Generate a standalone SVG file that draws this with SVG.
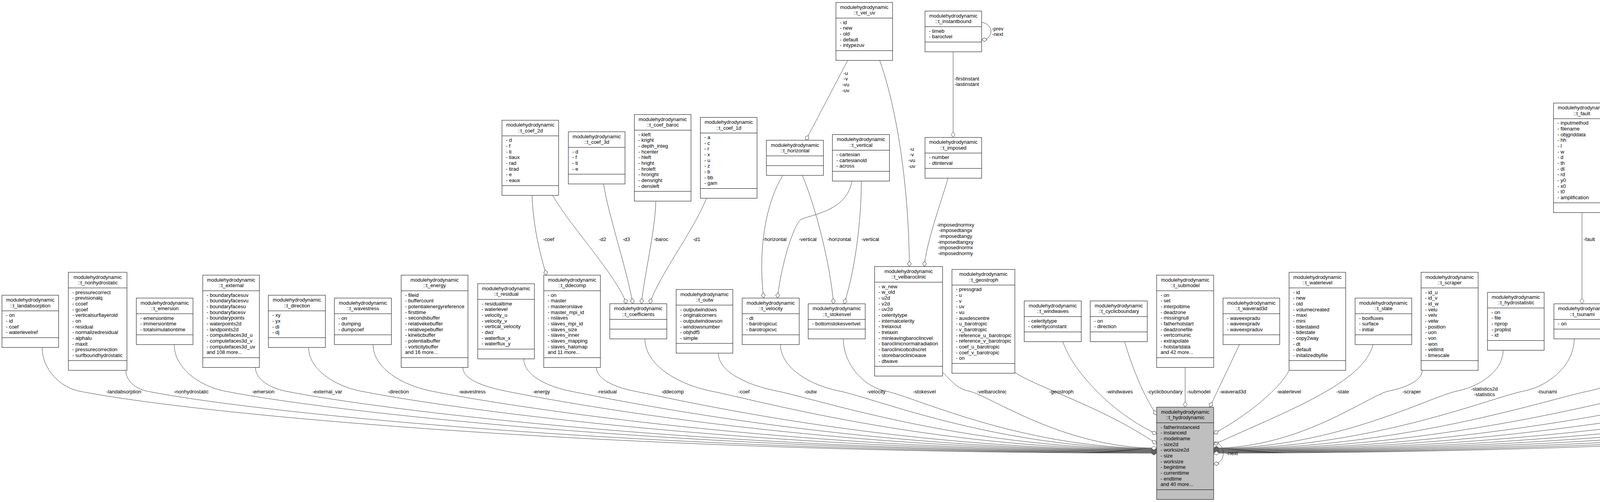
<svg xmlns="http://www.w3.org/2000/svg" width="6041" height="1285" viewBox="0 0 6041 1285">
<style>
.box{fill:#fff;stroke:#000;stroke-width:1}
.focus{fill:#bfbfbf}
.dv{stroke:#000;stroke-width:1;fill:none}
text{font-family:"Liberation Sans",Arial,Helvetica,sans-serif;font-size:13px;fill:#000}
.c{text-anchor:middle}
.e{fill:none;stroke:#404040;stroke-width:1;marker-end:url(#od)}
</style>
<defs>
<marker id="od" viewBox="-1 -1 16 12" markerWidth="16" markerHeight="12" refX="14" refY="5" orient="auto" markerUnits="userSpaceOnUse"><path d="M0,5 L7,0 L14,5 L7,10 Z" fill="#fff" stroke="#404040" stroke-width="1"/></marker>
</defs>
<rect width="6041" height="1285" fill="#fff"/>
<g id="nodes">
<g id="t_landabsorption" transform="translate(5,755.7)"><rect class="box" width="145" height="133.67"/><path class="dv" d="M0,40H145M0,108.67H145"/><text class="c" x="72.5" y="16.5">modulehydrodynamic</text><text class="c" x="72.5" y="31.2">::t_landabsorption</text><text y="55.5"><tspan x="10">- on</tspan><tspan x="10" dy="14.67">- id</tspan><tspan x="10" dy="14.67">- coef</tspan><tspan x="10" dy="14.67">- waterlevelref</tspan></text></g>
<g id="t_nonhydrostatic" transform="translate(175,697)"><rect class="box" width="150" height="251"/><path class="dv" d="M0,40H150M0,226H150"/><text class="c" x="75" y="16.5">modulehydrodynamic</text><text class="c" x="75" y="31.2">::t_nonhydrostatic</text><text y="55.5"><tspan x="10">- pressurecorrect</tspan><tspan x="10" dy="14.67">- previsionalq</tspan><tspan x="10" dy="14.67">- ccoef</tspan><tspan x="10" dy="14.67">- gcoef</tspan><tspan x="10" dy="14.67">- verticalsurflayerold</tspan><tspan x="10" dy="14.67">- on</tspan><tspan x="10" dy="14.67">- residual</tspan><tspan x="10" dy="14.67">- normalizedresidual</tspan><tspan x="10" dy="14.67">- alphalu</tspan><tspan x="10" dy="14.67">- maxit</tspan><tspan x="10" dy="14.67">- pressurecorrection</tspan><tspan x="10" dy="14.67">- surfboundhydrostatic</tspan></text></g>
<g id="t_emersion" transform="translate(349,763)"><rect class="box" width="145" height="119"/><path class="dv" d="M0,40H145M0,94H145"/><text class="c" x="72.5" y="16.5">modulehydrodynamic</text><text class="c" x="72.5" y="31.2">::t_emersion</text><text y="55.5"><tspan x="10">- emersiontime</tspan><tspan x="10" dy="14.67">- immersiontime</tspan><tspan x="10" dy="14.67">- totalsimulationtime</tspan></text></g>
<g id="t_external" transform="translate(519,704.3)"><rect class="box" width="145" height="236.33"/><path class="dv" d="M0,40H145M0,211.33H145"/><text class="c" x="72.5" y="16.5">modulehydrodynamic</text><text class="c" x="72.5" y="31.2">::t_external</text><text y="55.5"><tspan x="10">- boundaryfacesuv</tspan><tspan x="10" dy="14.67">- boundaryfacesvu</tspan><tspan x="10" dy="14.67">- boundaryfacesu</tspan><tspan x="10" dy="14.67">- boundaryfacesv</tspan><tspan x="10" dy="14.67">- boundarypoints</tspan><tspan x="10" dy="14.67">- waterpoints2d</tspan><tspan x="10" dy="14.67">- landpoints2d</tspan><tspan x="10" dy="14.67">- computefaces3d_u</tspan><tspan x="10" dy="14.67">- computefaces3d_v</tspan><tspan x="10" dy="14.67">- computefaces3d_uv</tspan><tspan x="10" dy="14.67">and 108 more...</tspan></text></g>
<g id="t_direction" transform="translate(687,755.7)"><rect class="box" width="146" height="133.67"/><path class="dv" d="M0,40H146M0,108.67H146"/><text class="c" x="73" y="16.5">modulehydrodynamic</text><text class="c" x="73" y="31.2">::t_direction</text><text y="55.5"><tspan x="10">- xy</tspan><tspan x="10" dy="14.67">- yx</tspan><tspan x="10" dy="14.67">- di</tspan><tspan x="10" dy="14.67">- dj</tspan></text></g>
<g id="t_wavestress" transform="translate(856,763)"><rect class="box" width="146" height="119"/><path class="dv" d="M0,40H146M0,94H146"/><text class="c" x="73" y="16.5">modulehydrodynamic</text><text class="c" x="73" y="31.2">::t_wavestress</text><text y="55.5"><tspan x="10">- on</tspan><tspan x="10" dy="14.67">- dumping</tspan><tspan x="10" dy="14.67">- dumpcoef</tspan></text></g>
<g id="t_energy" transform="translate(1027,704.3)"><rect class="box" width="171" height="236.33"/><path class="dv" d="M0,40H171M0,211.33H171"/><text class="c" x="85.5" y="16.5">modulehydrodynamic</text><text class="c" x="85.5" y="31.2">::t_energy</text><text y="55.5"><tspan x="10">- fileid</tspan><tspan x="10" dy="14.67">- buffercount</tspan><tspan x="10" dy="14.67">- potentialenergyreference</tspan><tspan x="10" dy="14.67">- firsttime</tspan><tspan x="10" dy="14.67">- secondsbuffer</tspan><tspan x="10" dy="14.67">- relativekebuffer</tspan><tspan x="10" dy="14.67">- relativepebuffer</tspan><tspan x="10" dy="14.67">- kineticbuffer</tspan><tspan x="10" dy="14.67">- potentialbuffer</tspan><tspan x="10" dy="14.67">- vorticitybuffer</tspan><tspan x="10" dy="14.67">and 16 more...</tspan></text></g>
<g id="t_residual" transform="translate(1223,726.3)"><rect class="box" width="145" height="192.33"/><path class="dv" d="M0,40H145M0,167.33H145"/><text class="c" x="72.5" y="16.5">modulehydrodynamic</text><text class="c" x="72.5" y="31.2">::t_residual</text><text y="55.5"><tspan x="10">- residualtime</tspan><tspan x="10" dy="14.67">- waterlevel</tspan><tspan x="10" dy="14.67">- velocity_u</tspan><tspan x="10" dy="14.67">- velocity_v</tspan><tspan x="10" dy="14.67">- vertical_velocity</tspan><tspan x="10" dy="14.67">- dwz</tspan><tspan x="10" dy="14.67">- waterflux_x</tspan><tspan x="10" dy="14.67">- waterflux_y</tspan></text></g>
<g id="t_ddecomp" transform="translate(1392,704.3)"><rect class="box" width="145" height="236.33"/><path class="dv" d="M0,40H145M0,211.33H145"/><text class="c" x="72.5" y="16.5">modulehydrodynamic</text><text class="c" x="72.5" y="31.2">::t_ddecomp</text><text y="55.5"><tspan x="10">- on</tspan><tspan x="10" dy="14.67">- master</tspan><tspan x="10" dy="14.67">- masterorslave</tspan><tspan x="10" dy="14.67">- master_mpi_id</tspan><tspan x="10" dy="14.67">- nslaves</tspan><tspan x="10" dy="14.67">- slaves_mpi_id</tspan><tspan x="10" dy="14.67">- slaves_size</tspan><tspan x="10" dy="14.67">- slaves_inner</tspan><tspan x="10" dy="14.67">- slaves_mapping</tspan><tspan x="10" dy="14.67">- slaves_halomap</tspan><tspan x="10" dy="14.67">and 11 more...</tspan></text></g>
<g id="t_coefficients" transform="translate(1561,777.5)"><rect class="box" width="146" height="90"/><path class="dv" d="M0,40H146M0,65H146"/><text class="c" x="73" y="16.5">modulehydrodynamic</text><text class="c" x="73" y="31.2">::t_coefficients</text></g>
<g id="t_outw" transform="translate(1731,741)"><rect class="box" width="145" height="163"/><path class="dv" d="M0,40H145M0,138H145"/><text class="c" x="72.5" y="16.5">modulehydrodynamic</text><text class="c" x="72.5" y="31.2">::t_outw</text><text y="55.5"><tspan x="10">- outputwindows</tspan><tspan x="10" dy="14.67">- originalcorners</tspan><tspan x="10" dy="14.67">- outputwindowson</tspan><tspan x="10" dy="14.67">- windowsnumber</tspan><tspan x="10" dy="14.67">- objhdf5</tspan><tspan x="10" dy="14.67">- simple</tspan></text></g>
<g id="t_velocity" transform="translate(1900,763)"><rect class="box" width="146" height="119"/><path class="dv" d="M0,40H146M0,94H146"/><text class="c" x="73" y="16.5">modulehydrodynamic</text><text class="c" x="73" y="31.2">::t_velocity</text><text y="55.5"><tspan x="10">- dt</tspan><tspan x="10" dy="14.67">- barotropicuc</tspan><tspan x="10" dy="14.67">- barotropicvc</tspan></text></g>
<g id="t_stokesvel" transform="translate(2069,777.7)"><rect class="box" width="146" height="89.67"/><path class="dv" d="M0,40H146M0,64.67H146"/><text class="c" x="73" y="16.5">modulehydrodynamic</text><text class="c" x="73" y="31.2">::t_stokesvel</text><text y="55.5"><tspan x="10">- bottomstokesvertvel</tspan></text></g>
<g id="t_velbaroclinic" transform="translate(2239,682.3)"><rect class="box" width="174" height="280.33"/><path class="dv" d="M0,40H174M0,255.33H174"/><text class="c" x="87" y="16.5">modulehydrodynamic</text><text class="c" x="87" y="31.2">::t_velbaroclinic</text><text y="55.5"><tspan x="10">- w_new</tspan><tspan x="10" dy="14.67">- w_old</tspan><tspan x="10" dy="14.67">- u2d</tspan><tspan x="10" dy="14.67">- v2d</tspan><tspan x="10" dy="14.67">- uv2d</tspan><tspan x="10" dy="14.67">- celeritytype</tspan><tspan x="10" dy="14.67">- internalcelerity</tspan><tspan x="10" dy="14.67">- trelaxout</tspan><tspan x="10" dy="14.67">- trelaxin</tspan><tspan x="10" dy="14.67">- minleavingbaroclincvel</tspan><tspan x="10" dy="14.67">- baroclinicnormalradiation</tspan><tspan x="10" dy="14.67">- baroclinicobcdiscret</tspan><tspan x="10" dy="14.67">- storebaroclinicwave</tspan><tspan x="10" dy="14.67">- dtwave</tspan></text></g>
<g id="t_geostroph" transform="translate(2437,689.7)"><rect class="box" width="161" height="265.67"/><path class="dv" d="M0,40H161M0,240.67H161"/><text class="c" x="80.5" y="16.5">modulehydrodynamic</text><text class="c" x="80.5" y="31.2">::t_geostroph</text><text y="55.5"><tspan x="10">- pressgrad</tspan><tspan x="10" dy="14.67">- u</tspan><tspan x="10" dy="14.67">- v</tspan><tspan x="10" dy="14.67">- uv</tspan><tspan x="10" dy="14.67">- vu</tspan><tspan x="10" dy="14.67">- auxdescentre</tspan><tspan x="10" dy="14.67">- u_barotropic</tspan><tspan x="10" dy="14.67">- v_barotropic</tspan><tspan x="10" dy="14.67">- reference_u_barotropic</tspan><tspan x="10" dy="14.67">- reference_v_barotropic</tspan><tspan x="10" dy="14.67">- coef_u_barotropic</tspan><tspan x="10" dy="14.67">- coef_v_barotropic</tspan><tspan x="10" dy="14.67">- on</tspan></text></g>
<g id="t_windwaves" transform="translate(2622,770.3)"><rect class="box" width="146" height="104.33"/><path class="dv" d="M0,40H146M0,79.33H146"/><text class="c" x="73" y="16.5">modulehydrodynamic</text><text class="c" x="73" y="31.2">::t_windwaves</text><text y="55.5"><tspan x="10">- celeritytype</tspan><tspan x="10" dy="14.67">- celerityconstant</tspan></text></g>
<g id="t_cyclicboundary" transform="translate(2791,770.3)"><rect class="box" width="146" height="104.33"/><path class="dv" d="M0,40H146M0,79.33H146"/><text class="c" x="73" y="16.5">modulehydrodynamic</text><text class="c" x="73" y="31.2">::t_cyclicboundary</text><text y="55.5"><tspan x="10">- on</tspan><tspan x="10" dy="14.67">- direction</tspan></text></g>
<g id="t_submodel" transform="translate(2961,704.3)"><rect class="box" width="146" height="236.33"/><path class="dv" d="M0,40H146M0,211.33H146"/><text class="c" x="73" y="16.5">modulehydrodynamic</text><text class="c" x="73" y="31.2">::t_submodel</text><text y="55.5"><tspan x="10">- on</tspan><tspan x="10" dy="14.67">- set</tspan><tspan x="10" dy="14.67">- interpoltime</tspan><tspan x="10" dy="14.67">- deadzone</tspan><tspan x="10" dy="14.67">- missingnull</tspan><tspan x="10" dy="14.67">- fatherhotstart</tspan><tspan x="10" dy="14.67">- deadzonefile</tspan><tspan x="10" dy="14.67">- vertcomunic</tspan><tspan x="10" dy="14.67">- extrapolate</tspan><tspan x="10" dy="14.67">- hotstartdata</tspan><tspan x="10" dy="14.67">and 42 more...</tspan></text></g>
<g id="t_hydrodynamic" transform="translate(2961,1042.2)"><rect class="box focus" width="146" height="236.33"/><path class="dv" d="M0,40H146M0,211.33H146"/><text class="c" x="73" y="16.5">modulehydrodynamic</text><text class="c" x="73" y="31.2">::t_hydrodynamic</text><text y="55.5"><tspan x="10">- fatherinstanceid</tspan><tspan x="10" dy="14.67">- instanceid</tspan><tspan x="10" dy="14.67">- modelname</tspan><tspan x="10" dy="14.67">- size2d</tspan><tspan x="10" dy="14.67">- worksize2d</tspan><tspan x="10" dy="14.67">- size</tspan><tspan x="10" dy="14.67">- worksize</tspan><tspan x="10" dy="14.67">- begintime</tspan><tspan x="10" dy="14.67">- currenttime</tspan><tspan x="10" dy="14.67">- endtime</tspan><tspan x="10" dy="14.67">and 40 more...</tspan></text></g>
<g id="t_waverad3d" transform="translate(3131,763)"><rect class="box" width="145" height="119"/><path class="dv" d="M0,40H145M0,94H145"/><text class="c" x="72.5" y="16.5">modulehydrodynamic</text><text class="c" x="72.5" y="31.2">::t_waverad3d</text><text y="55.5"><tspan x="10">- waveexpradu</tspan><tspan x="10" dy="14.67">- waveexpradv</tspan><tspan x="10" dy="14.67">- waveexpraduv</tspan></text></g>
<g id="t_waterlevel" transform="translate(3300,697)"><rect class="box" width="145" height="251"/><path class="dv" d="M0,40H145M0,226H145"/><text class="c" x="72.5" y="16.5">modulehydrodynamic</text><text class="c" x="72.5" y="31.2">::t_waterlevel</text><text y="55.5"><tspan x="10">- id</tspan><tspan x="10" dy="14.67">- new</tspan><tspan x="10" dy="14.67">- old</tspan><tspan x="10" dy="14.67">- volumecreated</tspan><tspan x="10" dy="14.67">- maxi</tspan><tspan x="10" dy="14.67">- mini</tspan><tspan x="10" dy="14.67">- tidestateid</tspan><tspan x="10" dy="14.67">- tidestate</tspan><tspan x="10" dy="14.67">- copy2way</tspan><tspan x="10" dy="14.67">- dt</tspan><tspan x="10" dy="14.67">- default</tspan><tspan x="10" dy="14.67">- initalizedbyfile</tspan></text></g>
<g id="t_state" transform="translate(3469,763)"><rect class="box" width="145" height="119"/><path class="dv" d="M0,40H145M0,94H145"/><text class="c" x="72.5" y="16.5">modulehydrodynamic</text><text class="c" x="72.5" y="31.2">::t_state</text><text y="55.5"><tspan x="10">- boxfluxes</tspan><tspan x="10" dy="14.67">- surface</tspan><tspan x="10" dy="14.67">- initial</tspan></text></g>
<g id="t_scraper" transform="translate(3638,697)"><rect class="box" width="146" height="251"/><path class="dv" d="M0,40H146M0,226H146"/><text class="c" x="73" y="16.5">modulehydrodynamic</text><text class="c" x="73" y="31.2">::t_scraper</text><text y="55.5"><tspan x="10">- id_u</tspan><tspan x="10" dy="14.67">- id_v</tspan><tspan x="10" dy="14.67">- id_w</tspan><tspan x="10" dy="14.67">- velu</tspan><tspan x="10" dy="14.67">- velv</tspan><tspan x="10" dy="14.67">- velw</tspan><tspan x="10" dy="14.67">- position</tspan><tspan x="10" dy="14.67">- uon</tspan><tspan x="10" dy="14.67">- von</tspan><tspan x="10" dy="14.67">- won</tspan><tspan x="10" dy="14.67">- vellimit</tspan><tspan x="10" dy="14.67">- timescale</tspan></text></g>
<g id="t_hydrostatistic" transform="translate(3808,748.3)"><rect class="box" width="145" height="148.33"/><path class="dv" d="M0,40H145M0,123.33H145"/><text class="c" x="72.5" y="16.5">modulehydrodynamic</text><text class="c" x="72.5" y="31.2">::t_hydrostatistic</text><text y="55.5"><tspan x="10">- on</tspan><tspan x="10" dy="14.67">- file</tspan><tspan x="10" dy="14.67">- nprop</tspan><tspan x="10" dy="14.67">- proplist</tspan><tspan x="10" dy="14.67">- id</tspan></text></g>
<g id="t_tsunami" transform="translate(3978,777.7)"><rect class="box" width="145" height="89.67"/><path class="dv" d="M0,40H145M0,64.67H145"/><text class="c" x="72.5" y="16.5">modulehydrodynamic</text><text class="c" x="72.5" y="31.2">::t_tsunami</text><text y="55.5"><tspan x="10">- on</tspan></text></g>
<g id="t_thinwalls" transform="translate(4147,704.3)"><rect class="box" width="145" height="236.33"/><path class="dv" d="M0,40H145M0,211.33H145"/><text class="c" x="72.5" y="16.5">modulehydrodynamic</text><text class="c" x="72.5" y="31.2">::t_thinwalls</text><text y="55.5"><tspan x="10">- faceu_i</tspan><tspan x="10" dy="14.67">- faceu_j</tspan><tspan x="10" dy="14.67">- faceu_k</tspan><tspan x="10" dy="14.67">- facev_i</tspan><tspan x="10" dy="14.67">- facev_j</tspan><tspan x="10" dy="14.67">- facev_k</tspan><tspan x="10" dy="14.67">- facew_i</tspan><tspan x="10" dy="14.67">- facew_j</tspan><tspan x="10" dy="14.67">- facew_k</tspan><tspan x="10" dy="14.67">- uon</tspan><tspan x="10" dy="14.67">and 11 more...</tspan></text></g>
<g id="t_generic4d" transform="translate(4316,755.7)"><rect class="box" width="145" height="133.67"/><path class="dv" d="M0,40H145M0,108.67H145"/><text class="c" x="72.5" y="16.5">modulehydrodynamic</text><text class="c" x="72.5" y="31.2">::t_generic4d</text><text y="55.5"><tspan x="10">- on</tspan><tspan x="10" dy="14.67">- objtimeserie</tspan><tspan x="10" dy="14.67">- timeseriecolumn</tspan><tspan x="10" dy="14.67">- currentvalue</tspan></text></g>
<g id="t_drag" transform="translate(4485,770.3)"><rect class="box" width="145" height="104.33"/><path class="dv" d="M0,40H145M0,79.33H145"/><text class="c" x="72.5" y="16.5">modulehydrodynamic</text><text class="c" x="72.5" y="31.2">::t_drag</text><text y="55.5"><tspan x="10">- id</tspan><tspan x="10" dy="14.67">- coef</tspan></text></g>
<g id="t_relaxation" transform="translate(4654,689.7)"><rect class="box" width="146" height="265.67"/><path class="dv" d="M0,40H146M0,240.67H146"/><text class="c" x="73" y="16.5">modulehydrodynamic</text><text class="c" x="73" y="31.2">::t_relaxation</text><text y="55.5"><tspan x="10">- rox3</tspan><tspan x="10" dy="14.67">- horizadv</tspan><tspan x="10" dy="14.67">- coriolis</tspan><tspan x="10" dy="14.67">- velocity</tspan><tspan x="10" dy="14.67">- waterlevel</tspan><tspan x="10" dy="14.67">- refboundwaterlevel</tspan><tspan x="10" dy="14.67">- force</tspan><tspan x="10" dy="14.67">- geometry</tspan><tspan x="10" dy="14.67">- wavestress</tspan><tspan x="10" dy="14.67">- referencevelocity</tspan><tspan x="10" dy="14.67">- decaytimegeo</tspan><tspan x="10" dy="14.67">- brfroceonlyassimil</tspan><tspan x="10" dy="14.67">- coefwavestress</tspan></text></g>
<g id="t_astro" transform="translate(4824,704.3)"><rect class="box" width="145" height="236.33"/><path class="dv" d="M0,40H145M0,211.33H145"/><text class="c" x="72.5" y="16.5">modulehydrodynamic</text><text class="c" x="72.5" y="31.2">::t_astro</text><text y="55.5"><tspan x="10">- compute</tspan><tspan x="10" dy="14.67">- componentsnumber</tspan><tspan x="10" dy="14.67">- beta</tspan><tspan x="10" dy="14.67">- amplitude</tspan><tspan x="10" dy="14.67">- frequency</tspan><tspan x="10" dy="14.67">- arguments</tspan><tspan x="10" dy="14.67">- l</tspan><tspan x="10" dy="14.67">- m</tspan><tspan x="10" dy="14.67">- timeref</tspan><tspan x="10" dy="14.67">- alpha</tspan><tspan x="10" dy="14.67">- algorithm</tspan></text></g>
<g id="t_horadvection" transform="translate(4993,763)"><rect class="box" width="145" height="119"/><path class="dv" d="M0,40H145M0,94H145"/><text class="c" x="72.5" y="16.5">modulehydrodynamic</text><text class="c" x="72.5" y="31.2">::t_horadvection</text><text y="55.5"><tspan x="10">- coef1_up</tspan><tspan x="10" dy="14.67">- coef2_up</tspan><tspan x="10" dy="14.67">- coef3_up</tspan></text></g>
<g id="t_output" transform="translate(5163,704.3)"><rect class="box" width="158" height="236.33"/><path class="dv" d="M0,40H158M0,211.33H158"/><text class="c" x="79" y="16.5">modulehydrodynamic</text><text class="c" x="79" y="31.2">::t_output</text><text y="55.5"><tspan x="10">- outtime</tspan><tspan x="10" dy="14.67">- restartouttime</tspan><tspan x="10" dy="14.67">- surfaceouttime</tspan><tspan x="10" dy="14.67">- nextoutput</tspan><tspan x="10" dy="14.67">- number</tspan><tspan x="10" dy="14.67">- nextrestartoutput</tspan><tspan x="10" dy="14.67">- nextsurfaceoutput</tspan><tspan x="10" dy="14.67">- numbersurfaceoutputs</tspan><tspan x="10" dy="14.67">- hdf5on</tspan><tspan x="10" dy="14.67">- hdf5_surface_on</tspan><tspan x="10" dy="14.67">and 54 more...</tspan></text></g>
<g id="t_hydrooptions" transform="translate(5345,704.3)"><rect class="box" width="154" height="236.33"/><path class="dv" d="M0,40H154M0,211.33H154"/><text class="c" x="77" y="16.5">modulehydrodynamic</text><text class="c" x="77" y="31.2">::t_hydrooptions</text><text y="55.5"><tspan x="10">- enteringwavedirection</tspan><tspan x="10" dy="14.67">- biharmonicux_vy</tspan><tspan x="10" dy="14.67">- biharmonicuy_vx</tspan><tspan x="10" dy="14.67">- tlag</tspan><tspan x="10" dy="14.67">- biharmoniccoef</tspan><tspan x="10" dy="14.67">- bottomvisccoef</tspan><tspan x="10" dy="14.67">- upstream_centerdif</tspan><tspan x="10" dy="14.67">- implicitvertadvection</tspan><tspan x="10" dy="14.67">- implicitvertdiffusion</tspan><tspan x="10" dy="14.67">- num_discretization</tspan><tspan x="10" dy="14.67">and 98 more...</tspan></text></g>
<g id="t_forces" transform="translate(5523,704.3)"><rect class="box" width="174" height="236.33"/><path class="dv" d="M0,40H174M0,211.33H174"/><text class="c" x="87" y="16.5">modulehydrodynamic</text><text class="c" x="87" y="31.2">::t_forces</text><text y="55.5"><tspan x="10">- rox3xy</tspan><tspan x="10" dy="14.67">- rox3x</tspan><tspan x="10" dy="14.67">- rox3y</tspan><tspan x="10" dy="14.67">- horizontal_transport</tspan><tspan x="10" dy="14.67">- inertial_aceleration</tspan><tspan x="10" dy="14.67">- relax_aceleration</tspan><tspan x="10" dy="14.67">- obstacledrag_aceleration</tspan><tspan x="10" dy="14.67">- altim_relax_aceleration</tspan><tspan x="10" dy="14.67">- tidepotentiallevel</tspan><tspan x="10" dy="14.67">- scraper_aceleration</tspan><tspan x="10" dy="14.67">and 12 more...</tspan></text></g>
<g id="t_waterfluxes" transform="translate(5721,711.7)"><rect class="box" width="146" height="221.67"/><path class="dv" d="M0,40H146M0,196.67H146"/><text class="c" x="73" y="16.5">modulehydrodynamic</text><text class="c" x="73" y="31.2">::t_waterfluxes</text><text y="55.5"><tspan x="10">- x</tspan><tspan x="10" dy="14.67">- y</tspan><tspan x="10" dy="14.67">- z</tspan><tspan x="10" dy="14.67">- xy</tspan><tspan x="10" dy="14.67">- yx</tspan><tspan x="10" dy="14.67">- discharges</tspan><tspan x="10" dy="14.67">- dischargesvelu</tspan><tspan x="10" dy="14.67">- dischargesvelv</tspan><tspan x="10" dy="14.67">- dischargesveluv</tspan><tspan x="10" dy="14.67">- new_old</tspan></text></g>
<g id="t_files" transform="translate(5891,741)"><rect class="box" width="145" height="163"/><path class="dv" d="M0,40H145M0,138H145"/><text class="c" x="72.5" y="16.5">modulehydrodynamic</text><text class="c" x="72.5" y="31.2">::t_files</text><text y="55.5"><tspan x="10">- initialhydrodynamic</tspan><tspan x="10" dy="14.67">- finalhydrodynamic</tspan><tspan x="10" dy="14.67">- outputfields</tspan><tspan x="10" dy="14.67">- constructdata</tspan><tspan x="10" dy="14.67">- boxfluxesfilename</tspan><tspan x="10" dy="14.67">- energy</tspan></text></g>
<g id="t_coef_2d" transform="translate(1285,307.8)"><rect class="box" width="145" height="192.33"/><path class="dv" d="M0,40H145M0,167.33H145"/><text class="c" x="72.5" y="16.5">modulehydrodynamic</text><text class="c" x="72.5" y="31.2">::t_coef_2d</text><text y="55.5"><tspan x="10">- d</tspan><tspan x="10" dy="14.67">- f</tspan><tspan x="10" dy="14.67">- ti</tspan><tspan x="10" dy="14.67">- tiaux</tspan><tspan x="10" dy="14.67">- rad</tspan><tspan x="10" dy="14.67">- tirad</tspan><tspan x="10" dy="14.67">- e</tspan><tspan x="10" dy="14.67">- eaux</tspan></text></g>
<g id="t_coef_3d" transform="translate(1455,337.2)"><rect class="box" width="145" height="133.67"/><path class="dv" d="M0,40H145M0,108.67H145"/><text class="c" x="72.5" y="16.5">modulehydrodynamic</text><text class="c" x="72.5" y="31.2">::t_coef_3d</text><text y="55.5"><tspan x="10">- d</tspan><tspan x="10" dy="14.67">- f</tspan><tspan x="10" dy="14.67">- ti</tspan><tspan x="10" dy="14.67">- e</tspan></text></g>
<g id="t_coef_baroc" transform="translate(1624,293.2)"><rect class="box" width="145" height="221.67"/><path class="dv" d="M0,40H145M0,196.67H145"/><text class="c" x="72.5" y="16.5">modulehydrodynamic</text><text class="c" x="72.5" y="31.2">::t_coef_baroc</text><text y="55.5"><tspan x="10">- kleft</tspan><tspan x="10" dy="14.67">- kright</tspan><tspan x="10" dy="14.67">- depth_integ</tspan><tspan x="10" dy="14.67">- hcenter</tspan><tspan x="10" dy="14.67">- hleft</tspan><tspan x="10" dy="14.67">- hright</tspan><tspan x="10" dy="14.67">- hroleft</tspan><tspan x="10" dy="14.67">- hroright</tspan><tspan x="10" dy="14.67">- densright</tspan><tspan x="10" dy="14.67">- densleft</tspan></text></g>
<g id="t_coef_1d" transform="translate(1793,300.5)"><rect class="box" width="145" height="207"/><path class="dv" d="M0,40H145M0,182H145"/><text class="c" x="72.5" y="16.5">modulehydrodynamic</text><text class="c" x="72.5" y="31.2">::t_coef_1d</text><text y="55.5"><tspan x="10">- a</tspan><tspan x="10" dy="14.67">- c</tspan><tspan x="10" dy="14.67">- r</tspan><tspan x="10" dy="14.67">- x</tspan><tspan x="10" dy="14.67">- u</tspan><tspan x="10" dy="14.67">- z</tspan><tspan x="10" dy="14.67">- b</tspan><tspan x="10" dy="14.67">- bb</tspan><tspan x="10" dy="14.67">- gam</tspan></text></g>
<g id="t_horizontal" transform="translate(1962,359)"><rect class="box" width="146" height="90"/><path class="dv" d="M0,40H146M0,65H146"/><text class="c" x="73" y="16.5">modulehydrodynamic</text><text class="c" x="73" y="31.2">::t_horizontal</text></g>
<g id="t_vertical" transform="translate(2131,344.5)"><rect class="box" width="146" height="119"/><path class="dv" d="M0,40H146M0,94H146"/><text class="c" x="73" y="16.5">modulehydrodynamic</text><text class="c" x="73" y="31.2">::t_vertical</text><text y="55.5"><tspan x="10">- cartesian</tspan><tspan x="10" dy="14.67">- cartesianold</tspan><tspan x="10" dy="14.67">- across</tspan></text></g>
<g id="t_imposed" transform="translate(2368,351.8)"><rect class="box" width="145" height="104.33"/><path class="dv" d="M0,40H145M0,79.33H145"/><text class="c" x="72.5" y="16.5">modulehydrodynamic</text><text class="c" x="72.5" y="31.2">::t_imposed</text><text y="55.5"><tspan x="10">- number</tspan><tspan x="10" dy="14.67">- dtinterval</tspan></text></g>
<g id="t_fault" transform="translate(3977,263.8)"><rect class="box" width="145" height="280.33"/><path class="dv" d="M0,40H145M0,255.33H145"/><text class="c" x="72.5" y="16.5">modulehydrodynamic</text><text class="c" x="72.5" y="31.2">::t_fault</text><text y="55.5"><tspan x="10">- inputmethod</tspan><tspan x="10" dy="14.67">- filename</tspan><tspan x="10" dy="14.67">- objgriddata</tspan><tspan x="10" dy="14.67">- hh</tspan><tspan x="10" dy="14.67">- l</tspan><tspan x="10" dy="14.67">- w</tspan><tspan x="10" dy="14.67">- d</tspan><tspan x="10" dy="14.67">- th</tspan><tspan x="10" dy="14.67">- dl</tspan><tspan x="10" dy="14.67">- rd</tspan><tspan x="10" dy="14.67">- y0</tspan><tspan x="10" dy="14.67">- x0</tspan><tspan x="10" dy="14.67">- t0</tspan><tspan x="10" dy="14.67">- amplification</tspan></text></g>
<g id="t_hydrocoupling" transform="translate(5349,337.2)"><rect class="box" width="145" height="133.67"/><path class="dv" d="M0,40H145M0,108.67H145"/><text class="c" x="72.5" y="16.5">modulehydrodynamic</text><text class="c" x="72.5" y="31.2">::t_hydrocoupling</text><text y="55.5"><tspan x="10">- nextcompute</tspan><tspan x="10" dy="14.67">- dt_compute</tspan><tspan x="10" dy="14.67">- yes</tspan><tspan x="10" dy="14.67">- flag</tspan></text></g>
<g id="t_vel_uv" transform="translate(2140,6.3)"><rect class="box" width="145" height="148.33"/><path class="dv" d="M0,40H145M0,123.33H145"/><text class="c" x="72.5" y="16.5">modulehydrodynamic</text><text class="c" x="72.5" y="31.2">::t_vel_uv</text><text y="55.5"><tspan x="10">- id</tspan><tspan x="10" dy="14.67">- new</tspan><tspan x="10" dy="14.67">- old</tspan><tspan x="10" dy="14.67">- default</tspan><tspan x="10" dy="14.67">- intypezuv</tspan></text></g>
<g id="t_instantbound" transform="translate(2368,28.3)"><rect class="box" width="145" height="104.33"/><path class="dv" d="M0,40H145M0,79.33H145"/><text class="c" x="72.5" y="16.5">modulehydrodynamic</text><text class="c" x="72.5" y="31.2">::t_instantbound</text><text y="55.5"><tspan x="10">- timeb</tspan><tspan x="10" dy="14.67">- baroclvel</tspan></text></g>
</g>
<g id="connectors">
<path class="e" d="M1362,500 C1365,580 1382,650 1399,704.3"/>
<path class="e" d="M1415,500 C1460,580 1575,700 1604,777.5"/>
<path class="e" d="M1545,471 C1560,560 1605,690 1620,777.5"/>
<path class="e" d="M1679,515 C1676,600 1650,700 1642,777.5"/>
<path class="e" d="M1809,507.5 C1770,600 1690,700 1663,777.5"/>
<path class="e" d="M2004,449 C1960,520 1940,640 1955,763"/>
<path class="e" d="M2181,463.5 C2168,540 2080,548 2050,562 C2030,578 2000,680 1990,763"/>
<path class="e" d="M2054,449 C2080,510 2122,650 2134,777.7"/>
<path class="e" d="M2205,463.5 C2205,560 2190,690 2161,777.7"/>
<path class="e" d="M2170,154.7 L2063,359"/>
<path class="e" d="M2252,154.7 C2290,260 2326,450 2328,682.3"/>
<path class="e" d="M2427,456.2 C2405,530 2372,620 2366,682.3"/>
<path class="e" d="M2440,132.7 L2440,351.8"/>
<path class="e" d="M2513,57 C2545,62 2545,100 2513,102"/>
<path class="e" d="M4050,544.2 L4050,777.7"/>
<path class="e" d="M5422,470.8 L5422,704.3"/>
<path class="e" d="M108,890 C108,945.5 155,991.6 202,1001 C505.5,1061.7 1581.5,1160 2961,1160"/>
<path class="e" d="M322,948 C322,975 348.5,995.7 375,1001 C659.5,1057.9 1668,1159 2961,1159"/>
<path class="e" d="M446,882 C446,942 510.5,988.1 575,1001 C837.5,1053.5 1768,1158 2961,1158"/>
<path class="e" d="M654,941 C654,971 692,993.4 730,1001 C975.4,1050.1 1845.5,1157 2961,1157"/>
<path class="e" d="M790,889 C790,945.5 856.5,987.7 923,1001 C1147.2,1045.8 1942,1156 2961,1156"/>
<path class="e" d="M955,882 C955,942 1029.5,986.1 1104,1001 C1308.3,1041.9 2032.5,1155 2961,1155"/>
<path class="e" d="M1185,941 C1185,971 1239.5,990.1 1294,1001 C1477.4,1037.7 2127.5,1154 2961,1154"/>
<path class="e" d="M1341,919 C1341,960 1400,989.2 1459,1001 C1624.2,1034 2210,1153 2961,1153"/>
<path class="e" d="M1527,941 C1527,971 1575,991.4 1623,1001 C1770.2,1030.4 2292,1152 2961,1152"/>
<path class="e" d="M1651,867.5 C1651,934 1735.5,984.1 1820,1001 C1945.5,1026.1 2390.5,1151 2961,1151"/>
<path class="e" d="M1839,904 C1839,952.5 1914,986 1989,1001 C2095.9,1022.4 2475,1150 2961,1150"/>
<path class="e" d="M1998,882 C1998,941.5 2073.5,985.9 2149,1001 C2238.3,1018.9 2555,1149 2961,1149"/>
<path class="e" d="M2159,867.4 C2159,934 2213,990.2 2267,1001 C2343.3,1016.3 2614,1148 2961,1148"/>
<path class="e" d="M2413,953 C2430,968 2446.5,994.3 2480,1001 C2532.9,1011.6 2720.5,1147 2961,1147"/>
<path class="e" d="M2598,953 C2650,990 2820,1040 2961,1136"/>
<path class="e" d="M2721,874.6 C2745,950 2850,1060 2961,1111"/>
<path class="e" d="M2879,874.6 C2895,930 2925,1010 2961,1062"/>
<path class="e" d="M3034,940.6 L3034,1042.2"/>
<path class="e" d="M3173,882 L3097,1042.2"/>
<path class="e" d="M3300,948 C3280,990 3200,1060 3107,1110"/>
<path class="e" d="M3515,882 C3490,980 3300,1050 3107,1138"/>
<path class="e" d="M3641,948 C3641,974.5 3598,992.4 3555,1001 C3505.7,1010.9 3331,1147 3107,1147"/>
<path class="e" d="M3848,896.6 C3848,949 3789,989.2 3730,1001 C3661.5,1014.7 3418.5,1148 3107,1148"/>
<path class="e" d="M4030,867.4 C4030,934 3965.5,988.1 3901,1001 C3813.7,1018.5 3504,1149 3107,1149"/>
<path class="e" d="M4156,940.6 C4156,971 4111.5,992.1 4067,1001 C3961.4,1022.1 3587,1150 3107,1150"/>
<path class="e" d="M4359,889.4 C4359,945.5 4298.5,988.9 4238,1001 C4113.6,1025.9 3672.5,1151 3107,1151"/>
<path class="e" d="M4536,874.6 C4536,938 4472,988.2 4408,1001 C4264.9,1029.6 3757.5,1152 3107,1152"/>
<path class="e" d="M4654,953 C4640,968 4613,992.8 4572,1001 C4410.8,1033.2 3839.5,1153 3107,1153"/>
<path class="e" d="M4834,940.6 C4834,971 4790,992.2 4746,1001 C4565.7,1037.1 3926.5,1154 3107,1154"/>
<path class="e" d="M5040,882 C5040,941.5 4978.5,988.7 4917,1001 C4717.9,1040.8 4012,1155 3107,1155"/>
<path class="e" d="M5173,940.6 C5173,971 5130,992.4 5087,1001 C4869.2,1044.6 4097,1156 3107,1156"/>
<path class="e" d="M5357,940.6 C5357,971 5309.5,991.5 5262,1001 C5024.9,1048.4 4184.5,1157 3107,1157"/>
<path class="e" d="M5531,940.6 C5531,971 5489.5,992.7 5448,1001 C5190.5,1052.5 4277.5,1158 3107,1158"/>
<path class="e" d="M5737,933.4 C5737,967.5 5685.5,990.7 5634,1001 C5356,1056.6 4370.5,1159 3107,1159"/>
<path class="e" d="M5923,904 C5923,952.5 5870.5,990.5 5818,1001 C5519.8,1060.6 4462.5,1160 3107,1160"/>
<path class="e" d="M3107,1132 C3140,1136 3140,1184 3107,1188"/>
<text x="1390" y="616.5">-coef</text>
<text x="1533" y="616.5">-d2</text>
<text x="1594" y="616.5">-d3</text>
<text x="1674" y="616.5">-baroc</text>
<text x="1774" y="616.5">-d1</text>
<text x="1953" y="616.5">-horizontal</text>
<text x="2045" y="616.5">-vertical</text>
<text x="2118" y="616.5">-horizontal</text>
<text x="2205" y="616.5">-vertical</text>
<text class="c" x="2165" y="191.5">-u<tspan x="2165" dy="14.67">-v</tspan><tspan x="2165" dy="14.67">-vu</tspan><tspan x="2165" dy="14.67">-uv</tspan></text>
<text class="c" x="2334" y="385.5">-u<tspan x="2334" dy="14.67">-v</tspan><tspan x="2334" dy="14.67">-vu</tspan><tspan x="2334" dy="14.67">-uv</tspan></text>
<text class="c" x="2446" y="579.5">-imposednormxy<tspan x="2446" dy="14.67">-imposedtangx</tspan><tspan x="2446" dy="14.67">-imposedtangy</tspan><tspan x="2446" dy="14.67">-imposedtangxy</tspan><tspan x="2446" dy="14.67">-imposednormx</tspan><tspan x="2446" dy="14.67">-imposednormy</tspan></text>
<text class="c" x="2475" y="205.5">-firstinstant<tspan x="2475" dy="14.67">-lastinstant</tspan></text>
<text class="c" x="2554" y="77.5">-prev<tspan x="2554" dy="14.67">-next</tspan></text>
<text x="4054" y="616.5">-fault</text>
<text x="5426" y="616.5">-altimetryassimilation</text>
<text x="272" y="1006.5">-landabsorption</text>
<text x="445" y="1006.5">-nonhydrostatic</text>
<text x="645" y="1006.5">-emersion</text>
<text x="800" y="1006.5">-external_var</text>
<text x="993" y="1006.5">-direction</text>
<text x="1174" y="1006.5">-wavestress</text>
<text x="1364" y="1006.5">-energy</text>
<text x="1529" y="1006.5">-residual</text>
<text x="1693" y="1006.5">-ddecomp</text>
<text x="1890" y="1006.5">-coef</text>
<text x="2059" y="1006.5">-outw</text>
<text x="2219" y="1006.5">-velocity</text>
<text x="2337" y="1006.5">-stokesvel</text>
<text x="2501" y="1006.5">-velbaroclinic</text>
<text x="2686" y="1006.5">-geostroph</text>
<text x="2832" y="1006.5">-windwaves</text>
<text x="2937" y="1006.5">-cyclicboundary</text>
<text x="3038" y="1006.5">-submodel</text>
<text x="3122" y="1006.5">-waverad3d</text>
<text x="3268" y="1006.5">-waterlevel</text>
<text x="3421" y="1006.5">-state</text>
<text x="3590" y="1006.5">-scraper</text>
<text class="c" x="3800" y="999.5">-statistics2d<tspan x="3800" dy="14.67">-statistics</tspan></text>
<text x="3936" y="1006.5">-tsunami</text>
<text x="4102" y="1006.5">-thinwalls</text>
<text x="4273" y="1006.5">-generic4d</text>
<text x="4443" y="1006.5">-drag</text>
<text x="4607" y="1006.5">-relaxation</text>
<text x="4781" y="1006.5">-tidepotential</text>
<text x="4952" y="1006.5">-horadvection</text>
<text x="5122" y="1006.5">-output</text>
<text x="5297" y="1006.5">-computeoptions</text>
<text x="5483" y="1006.5">-forces</text>
<text class="c" x="5725" y="999.5">-waterfluxes<tspan x="5725" dy="14.67">-stokeswaterfluxes</tspan></text>
<text x="5853" y="1006.5">-files</text>
<text x="3140" y="1164.5">-next</text>
</g>
</svg>
